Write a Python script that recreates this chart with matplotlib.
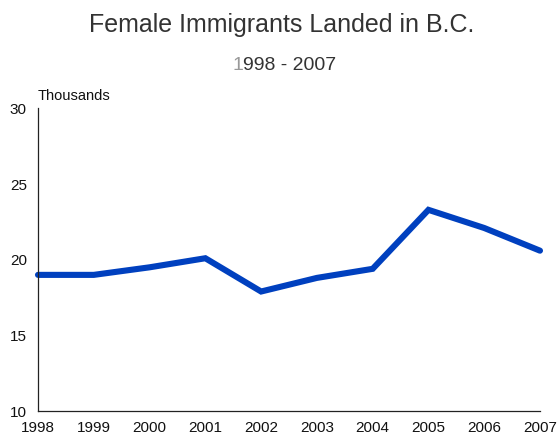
import matplotlib
matplotlib.use("Agg")
import matplotlib.pyplot as plt

# data
years = [1998, 1999, 2000, 2001, 2002, 2003, 2004, 2005, 2006, 2007]
immigrants = [19.0, 19.0, 19.5, 20.1, 17.9, 18.8, 19.4, 23.3, 22.1, 20.6]
yticks = [10, 15, 20, 25, 30]

plt.rcParams["font.family"] = ["Liberation Sans", "DejaVu Sans"]

fig = plt.figure(figsize=(5.58, 4.36), dpi=100)
ax = fig.add_axes([38/558, 25/436, (540-38)/558, (411.5-109)/436])

ax.plot(years, immigrants, color="#0040bf", lw=4.4, solid_capstyle="round",
        solid_joinstyle="miter", clip_on=False)

ax.set_xlim(years[0], years[-1])
ax.set_ylim(10, 30)
ax.set_xticks(years)
ax.set_yticks(yticks)
ax.tick_params(length=0, labelsize=11, colors="#111111")
ax.tick_params(axis="x", pad=7.5)
ax.tick_params(axis="y", pad=8)
for s in ["top", "right"]:
    ax.spines[s].set_visible(False)
for s in ["left", "bottom"]:
    ax.spines[s].set_linewidth(0.9)
    ax.spines[s].set_color("#222222")

fig.text(38/558, 1 - 96/436, "Thousands", fontsize=10.5, ha="left", va="center", color="#111111")
fig.text(282/558, 1 - 25/436, "Female Immigrants Landed in B.C.", fontsize=18,
         ha="center", va="center", color="#333333")

# subtitle: first digit is lighter in the original
t1 = fig.text(232/558, 1 - 70/436, "1", fontsize=14, ha="left", va="baseline", color="#999999")
ax.annotate("998 - 2007", xy=(1, 0), xycoords=t1, fontsize=14, ha="left", va="bottom",
            color="#333333", annotation_clip=False)

fig.savefig("out.png", dpi=100)
